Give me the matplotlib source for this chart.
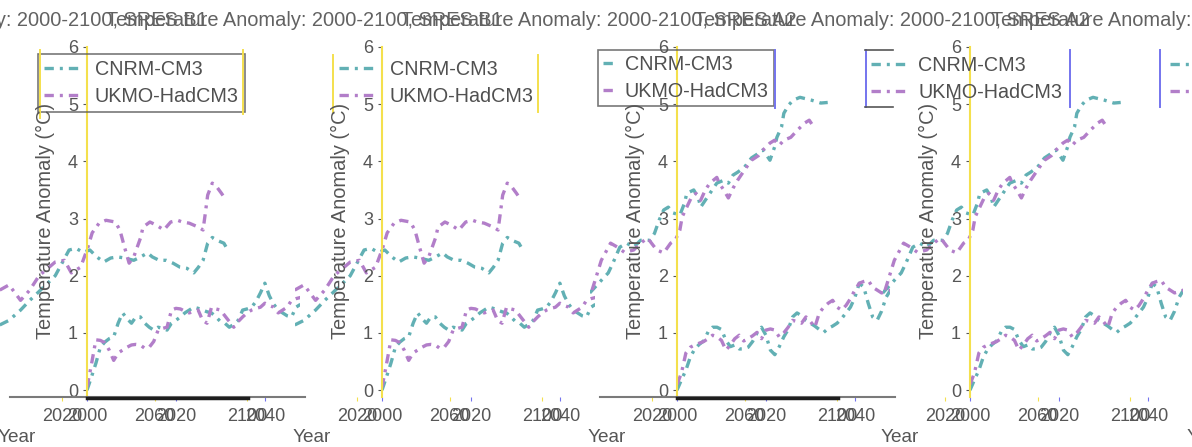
import matplotlib
matplotlib.use('Agg')
import matplotlib.pyplot as plt
from matplotlib.lines import Line2D

W, H = 1192, 447
plt.rcParams['font.family'] = ['Liberation Sans', 'DejaVu Sans']

GREY = '#565656'
YELLOW = '#f4e04d'
BLUE = '#7474ee'
colors = {'CNRM-CM3': '#62b0b4', 'UKMO-HadCM3': '#b27ec9'}
models = ['CNRM-CM3', 'UKMO-HadCM3']
scenarios = ['B1', 'B1', 'A2', 'A2']

# first decades, yearly values
near_years = list(range(2000, 2049))
b1_near_cnrm = [0.00, 0.23, 0.47, 0.75, 0.84, 0.90, 0.93, 1.17, 1.35, 1.25,
                1.17, 1.28, 1.28, 1.17, 1.10, 1.05, 1.10, 1.08, 1.05, 1.17,
                1.22, 1.28, 1.35, 1.40, 1.45, 1.43, 1.40, 1.37, 1.35, 1.28,
                1.20, 1.17, 1.10, 1.15, 1.22, 1.40, 1.42, 1.45, 1.55, 1.70,
                1.87, 1.65, 1.50, 1.40, 1.35, 1.30, 1.28, 1.45, 1.50]
b1_near_ukmo = [0.05, 0.45, 0.88, 0.87, 0.83, 0.70, 0.52, 0.65, 0.70, 0.75,
                0.79, 0.80, 0.79, 0.73, 0.75, 0.85, 1.05, 1.08, 1.10, 1.40,
                1.43, 1.42, 1.38, 1.35, 1.38, 1.40, 1.22, 1.17, 1.45, 1.42,
                1.40, 1.30, 1.20, 1.10, 1.20, 1.28, 1.35, 1.40, 1.43, 1.45,
                1.52, 1.48, 1.45, 1.35, 1.40, 1.45, 1.57, 1.60, 1.62]
a2_near_cnrm = [0.00, 0.18, 0.35, 0.58, 0.72, 0.80, 0.86, 1.02, 1.10, 1.10,
                1.06, 0.87, 0.76, 0.79, 0.72, 0.72, 0.75, 0.85, 1.00, 1.10,
                0.96, 0.70, 0.62, 0.76, 0.93, 1.06, 1.28, 1.35, 1.30, 1.22,
                1.17, 1.12, 1.06, 1.01, 1.08, 1.12, 1.17, 1.25, 1.35, 1.45,
                1.62, 1.87, 1.80, 1.52, 1.28, 1.22, 1.38, 1.62, 1.75]
a2_near_ukmo = [0.10, 0.30, 0.65, 0.75, 0.79, 0.82, 0.85, 0.90, 0.96, 0.93,
                0.87, 0.70, 0.79, 0.90, 0.96, 0.86, 0.90, 0.95, 1.01, 0.90,
                1.05, 1.07, 1.05, 0.93, 1.00, 1.10, 1.22, 1.20, 1.17, 1.28,
                1.20, 1.10, 1.35, 1.45, 1.52, 1.57, 1.45, 1.40, 1.48, 1.60,
                1.75, 1.87, 1.90, 1.92, 1.80, 1.75, 1.70, 1.72, 1.75]

# whole run
b1_full_cnrm_years = [1993, 1997, 2002, 2006, 2013, 2017, 2019, 2023, 2026, 2029,
                      2032, 2035, 2038, 2041, 2044, 2047, 2051, 2054, 2057, 2059,
                      2062, 2065, 2068, 2071, 2074, 2077, 2079, 2081, 2083, 2085,
                      2087, 2090, 2091]
b1_full_cnrm = [1.14, 1.22, 1.40, 1.57, 1.84, 2.00, 2.15, 2.45, 2.48, 2.41,
                2.45, 2.33, 2.24, 2.31, 2.33, 2.31, 2.27, 2.33, 2.40, 2.33,
                2.27, 2.27, 2.22, 2.15, 2.13, 2.05, 2.15, 2.27, 2.57, 2.67,
                2.62, 2.57, 2.50]
b1_full_ukmo_years = [1993, 1997, 2002, 2006, 2010, 2017, 2021, 2024, 2028, 2031,
                      2033, 2036, 2039, 2043, 2045, 2047, 2049, 2051, 2054, 2055,
                      2058, 2061, 2064, 2067, 2070, 2072, 2075, 2079, 2081, 2082,
                      2083, 2085, 2087, 2089, 2091]
b1_full_ukmo = [1.75, 1.84, 1.57, 1.75, 2.00, 2.24, 2.27, 2.05, 2.15, 2.48,
                2.75, 2.92, 2.97, 2.94, 2.80, 2.50, 2.22, 2.33, 2.67, 2.85,
                2.94, 2.88, 2.80, 2.94, 2.97, 2.94, 2.92, 2.85, 2.80, 3.10,
                3.41, 3.62, 3.55, 3.44, 3.32]
a2_full_cnrm_years = [1993, 1998, 2001, 2003, 2006, 2009, 2012, 2015, 2019, 2021,
                      2023, 2025, 2027, 2029, 2032, 2034, 2035, 2038, 2040, 2041,
                      2043, 2046, 2048, 2051, 2053, 2055, 2057, 2060, 2063, 2066,
                      2068, 2071, 2073, 2074, 2076, 2077, 2079, 2081, 2084, 2089,
                      2093, 2096]
a2_full_cnrm = [1.70, 1.92, 2.05, 2.22, 2.50, 2.57, 2.50, 2.62, 2.62, 2.74,
                2.97, 3.15, 3.20, 3.10, 3.06, 3.27, 3.44, 3.50, 3.36, 3.20,
                3.32, 3.50, 3.62, 3.67, 3.62, 3.76, 3.81, 3.90, 4.06, 4.14,
                4.20, 4.02, 4.25, 4.42, 4.60, 4.84, 4.98, 5.07, 5.12, 5.07,
                5.02, 5.03]
a2_full_ukmo_years = [1994, 1998, 2002, 2005, 2008, 2012, 2015, 2018, 2022, 2025,
                      2028, 2030, 2032, 2033, 2035, 2037, 2039, 2041, 2043, 2045,
                      2048, 2049, 2051, 2053, 2055, 2057, 2060, 2063, 2066, 2068,
                      2071, 2073, 2075, 2077, 2080, 2083, 2086, 2088, 2090]
a2_full_ukmo = [1.75, 2.27, 2.57, 2.50, 2.41, 2.45, 2.57, 2.66, 2.45, 2.40,
                2.57, 2.62, 2.80, 3.03, 3.20, 3.37, 3.44, 3.32, 3.50, 3.62,
                3.72, 3.62, 3.50, 3.36, 3.53, 3.67, 3.85, 4.02, 4.10, 4.20,
                4.32, 4.37, 4.28, 4.37, 4.42, 4.55, 4.67, 4.72, 4.60]

near = {
    'B1': {'CNRM-CM3': b1_near_cnrm, 'UKMO-HadCM3': b1_near_ukmo},
    'A2': {'CNRM-CM3': a2_near_cnrm, 'UKMO-HadCM3': a2_near_ukmo},
}
full = {
    'B1': {'CNRM-CM3': (b1_full_cnrm_years, b1_full_cnrm),
           'UKMO-HadCM3': (b1_full_ukmo_years, b1_full_ukmo)},
    'A2': {'CNRM-CM3': (a2_full_cnrm_years, a2_full_cnrm),
           'UKMO-HadCM3': (a2_full_ukmo_years, a2_full_ukmo)},
}

panel_x = [0, 295, 590, 883]
LS = (0, (2.8, 1.8, 0.9, 1.8))
LW = 2.4

fig = plt.figure(figsize=(W / 100, H / 100), dpi=100)


def px_axes(x0, y0, x1, y1):
    return fig.add_axes([x0 / W, 1 - y1 / H, (x1 - x0) / W, (y1 - y0) / H])


def seg(x0, y0, x1, y1, color, lw=1.2):
    fig.add_artist(Line2D([x0 / W, x1 / W], [1 - y0 / H, 1 - y1 / H],
                          transform=fig.transFigure, color=color, lw=lw))


def ftext(x, y, s, **kw):
    fig.text(x / W, 1 - y / H, s, **kw)


legend_opts = [
    dict(anchor=(38, 54), handlelength=1.78, handletextpad=0.8, borderpad=0.3, edge=GREY),
    dict(anchor=(333, 54), handlelength=1.78, handletextpad=0.8, borderpad=0.3, edge='none'),
    dict(anchor=(598, 50), handlelength=0.5, handletextpad=0.6, borderpad=0.25, edge=GREY),
    dict(anchor=(865, 50), handlelength=1.9, handletextpad=0.5, borderpad=0.3, edge='none'),
]

for i, (ox, sc) in enumerate(zip(panel_x, scenarios)):
    # century-long layer
    axb = px_axes(ox, 47, ox + 295, 397)
    axb.patch.set_visible(False)
    for m in models:
        yrs, vals = full[sc][m]
        axb.plot(yrs, vals, color=colors[m], ls=LS, lw=LW)
    axb.set_xlim(1993.1, 2120.8)
    axb.set_ylim(-0.12, 6)
    axb.set_xticks([2020, 2060, 2100])
    axb.set_yticks([])
    axb.tick_params(axis='x', length=3, color=YELLOW, labelsize=13,
                    labelcolor=GREY, pad=5)
    for s in axb.spines.values():
        s.set_visible(False)

    # first decades layer
    axa = px_axes(ox + 87, 47, ox + 300, 397)
    axa.patch.set_visible(False)
    lines = []
    for m in models:
        ln, = axa.plot(near_years, near[sc][m], color=colors[m], ls=LS, lw=LW, label=m)
        lines.append(ln)
    axa.set_xlim(2000, 2047.9)
    axa.set_ylim(-0.12, 6)
    axa.set_xticks([2000, 2020, 2040])
    axa.set_yticks(range(0, 7))
    axa.tick_params(axis='x', length=3, color=BLUE, labelsize=13,
                    labelcolor=GREY, pad=5)
    axa.tick_params(axis='y', length=3, color=GREY, labelsize=13,
                    labelcolor=GREY, pad=3.5)
    for k in ['top', 'right', 'bottom']:
        axa.spines[k].set_visible(False)
    axa.spines['left'].set_color(YELLOW)
    axa.spines['left'].set_linewidth(1.5)

    o = legend_opts[i]
    leg = axa.legend(loc='upper left',
                     bbox_to_anchor=(o['anchor'][0] / W, 1 - o['anchor'][1] / H),
                     bbox_transform=fig.transFigure, borderaxespad=0,
                     handlelength=o['handlelength'], handletextpad=o['handletextpad'],
                     borderpad=o['borderpad'], labelspacing=0.42,
                     fancybox=False, prop={'size': 14.2}, labelcolor='#505050')
    leg.get_frame().set_facecolor('none')
    leg.get_frame().set_edgecolor(o['edge'])
    leg.get_frame().set_linewidth(1.2)

    ftext(ox + 9, 20, f'Temperature Anomaly: 2000-2100, SRES {sc}', ha='center',
          va='center', fontsize=14.4, color='#626262')
    ftext(ox + 45, 221, 'Temperature Anomaly (°C)', rotation=90, ha='center',
          va='center', fontsize=14.4, color=GREY)
    ftext(ox - 2, 437, 'Year', ha='left', va='center', fontsize=13.7, color=GREY)

    if i in (0, 2):
        seg(ox + 10, 397, ox + 305, 397, '#7a7a7a', 1.5)
        seg(ox + 87, 398, ox + 248, 398, '#1e1e1e', 2.5)

    if i == 3:
        # trailing legend keys at the right edge
        axa.legend(lines, ['', ''], loc='upper left',
                   bbox_to_anchor=(1164 / W, 1 - 50 / H),
                   bbox_transform=fig.transFigure, borderaxespad=0,
                   handlelength=1.9, handletextpad=0.5, borderpad=0.3,
                   labelspacing=0.42, frameon=False, prop={'size': 14.2})
        axa.add_artist(leg)

# stray frame edges
seg(40, 50, 40, 118, YELLOW, 1.4)
seg(243, 50, 243, 114, YELLOW, 1.4)
seg(333, 55, 333, 112, YELLOW, 1.4)
seg(538, 55, 538, 112, YELLOW, 1.4)
seg(775, 50, 775, 108, BLUE, 1.4)
seg(866, 50, 866, 107, BLUE, 1.4)
seg(865, 50, 893, 50, GREY, 1.2)
seg(865, 107, 893, 107, GREY, 1.2)
seg(1070, 50, 1070, 107, BLUE, 1.4)
seg(1160, 50, 1160, 107, BLUE, 1.4)

ftext(1189, 20, 'Temperature Anomaly: 2000-2100, SRES A2', ha='center',
      va='center', fontsize=14.4, color='#626262')
ftext(1187, 437, 'Year', ha='left', va='center', fontsize=13.7, color=GREY)

fig.savefig('out.png', dpi=100)
